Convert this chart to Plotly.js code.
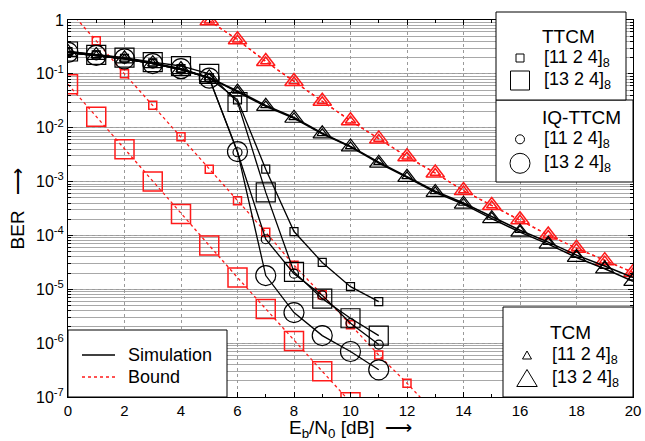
<!DOCTYPE html>
<html>
<head>
<meta charset="utf-8">
<script src="https://cdn.plot.ly/plotly-3.0.1.min.js"></script>
<style>html,body{margin:0;padding:0;background:#fff;}#chart{width:645px;height:441px;}</style>
</head>
<body>
<div id="chart"></div>
<script>
// ---------- data ----------
const xSim20 = [0,1,2,3,4,5,6,7,8,9,10,11,12,13,14,15,16,17,18,19,20];
const xSim11 = [0,1,2,3,4,5,6,7,8,9,10,11];
const xBoundSq11 = [0,1,2,3,4,5,6,7,8,9,10,11,12,13];
const xBoundSq13 = [0,1,2,3,4,5,6,7,8,9,10];
const xBoundTri = [5,6,7,8,9,10,11,12,13,14,15,16,17,18,19,20];

const tcm11Sim = [0.25,0.22,0.19,0.155,0.12,0.085,0.048,0.026,0.0155,0.0079,0.0045,0.0023,0.00125,6.6e-4,4.0e-4,2.2e-4,1.25e-4,7.5e-5,4.3e-5,2.7e-5,1.65e-5];
const tcm13Sim = [0.25,0.22,0.19,0.155,0.12,0.085,0.046,0.025,0.015,0.0077,0.0044,0.0022,0.0012,6.3e-4,3.8e-4,2.05e-4,1.15e-4,6.9e-5,3.9e-5,2.4e-5,1.4e-5];
const ttcm11Sim = [0.26,0.225,0.195,0.16,0.125,0.085,0.033,0.0017,1.18e-4,3.15e-5,1.12e-5,5.9e-6];
const ttcm13Sim = [0.26,0.225,0.2,0.165,0.14,0.1,0.03,6.3e-4,2.1e-5,6.7e-6,2.9e-6,1.38e-6];
const iq11Sim = [0.25,0.22,0.19,0.155,0.12,0.083,3.5e-3,8.5e-5,1.95e-5,7.7e-6,2.35e-6,9.4e-7];
const iq13Sim = [0.25,0.22,0.19,0.155,0.125,0.083,3.6e-3,1.8e-5,3.7e-6,1.38e-6,7.0e-7,3.2e-7];

const ttcm11Bound = [1.6,0.41,0.1,0.026,0.0068,0.0017,4.4e-4,1.15e-4,2.8e-5,7.9e-6,2.2e-6,6.0e-7,1.8e-7,5e-8];
const ttcm13Bound = [0.064,0.016,0.004,1.0e-3,2.5e-4,6.5e-5,1.65e-5,4.3e-6,1.1e-6,3.0e-7,8e-8];
const tcm11Bound = [0.97,0.43,0.17,0.072,0.031,0.0135,0.0062,0.0029,0.00144,6.8e-4,3.6e-4,1.95e-4,1.02e-4,5.8e-5,3.4e-5,2.05e-5];
const tcm13Bound = [0.97,0.43,0.17,0.072,0.031,0.0135,0.0062,0.0029,0.00144,6.8e-4,3.6e-4,1.95e-4,1.02e-4,5.8e-5,3.4e-5,2.05e-5];

const xTicks = [0,2,4,6,8,10,12,14,16,18,20];
const yTickVals = [1,0.1,0.01,0.001,1e-4,1e-5,1e-6,1e-7];
const yTickText = ['1','10<sup>-1</sup>','10<sup>-2</sup>','10<sup>-3</sup>','10<sup>-4</sup>','10<sup>-5</sup>','10<sup>-6</sup>','10<sup>-7</sup>'];

const legendSimLabel = 'Simulation';
const legendBoundLabel = 'Bound';
const groupTTCM = 'TTCM';
const groupIQ = 'IQ-TTCM';
const groupTCM = 'TCM';
const code11 = '[11 2 4]<sub>8</sub>';
const code13 = '[13 2 4]<sub>8</sub>';
const xTitle = 'E<sub>b</sub>/N<sub>0</sub> [dB]  ⟶';
const yTitle = 'BER   ⟶';

// ---------- styling ----------
const RED = '#ff1a1a';
const FONT = 'Liberation Sans, Arial, Helvetica, sans-serif';

function sim(name, x, y, symbol, size, lw) {
  return {type:'scatter', mode:'lines+markers', name:name, x:x, y:y, showlegend:false,
    line:{color:'#000', width:lw||1.3},
    marker:{symbol:symbol, size:size, color:'#000', line:{color:'#000', width:1.2}}};
}
function bound(name, x, y, symbol, size) {
  return {type:'scatter', mode:'lines+markers', name:name, x:x, y:y, showlegend:false,
    line:{color:RED, width:1.3, dash:'dot'},
    marker:{symbol:symbol, size:size, color:RED, line:{color:RED, width:1.5}}};
}

const traces = [
  bound('TTCM [11 2 4] bound', xBoundSq11, ttcm11Bound, 'square-open', 8),
  bound('TTCM [13 2 4] bound', xBoundSq13, ttcm13Bound, 'square-open', 19),
  bound('TCM [11 2 4] bound', xBoundTri, tcm11Bound, 'triangle-up-open', 9),
  bound('TCM [13 2 4] bound', xBoundTri, tcm13Bound, 'triangle-up-open', 16),
  sim('TCM [11 2 4]', xSim20, tcm11Sim, 'triangle-up-open', 9, 1.5),
  sim('TCM [13 2 4]', xSim20, tcm13Sim, 'triangle-up-open', 16, 1.5),
  sim('TTCM [11 2 4]', xSim11, ttcm11Sim, 'square-open', 8),
  sim('TTCM [13 2 4]', xSim11, ttcm13Sim, 'square-open', 19),
  sim('IQ-TTCM [11 2 4]', xSim11, iq11Sim, 'circle-open', 9),
  sim('IQ-TTCM [13 2 4]', xSim11, iq13Sim, 'circle-open', 20)
];

// ---------- legend boxes (pixel helpers) ----------
const PL = 68, PR = 633, PT = 20, PB = 397;
function px(v){ return (v-PL)/(PR-PL); }
function py(v){ return (PB-v)/(PB-PT); }
function rect(x0,y0,x1,y1,extra){
  return Object.assign({type:'rect', xref:'paper', yref:'paper', layer:'above',
    x0:px(x0), x1:px(x1), y0:py(y1), y1:py(y0),
    line:{color:'#000', width:1}, fillcolor:'rgba(0,0,0,0)'}, extra||{});
}
function circ(cx,cy,d){
  return {type:'circle', xref:'paper', yref:'paper', layer:'above',
    x0:px(cx-d/2), x1:px(cx+d/2), y0:py(cy+d/2), y1:py(cy-d/2),
    line:{color:'#000', width:1}};
}
function tri(cx,cy,w,h){
  const p = 'M'+px(cx-w/2)+','+py(cy+h/2)+' L'+px(cx+w/2)+','+py(cy+h/2)+' L'+px(cx)+','+py(cy-h/2)+' Z';
  return {type:'path', xref:'paper', yref:'paper', layer:'above', path:p, line:{color:'#000', width:1}};
}
function seg(x0,x1,y,color,dash){
  return {type:'line', xref:'paper', yref:'paper', layer:'above',
    x0:px(x0), x1:px(x1), y0:py(y), y1:py(y), line:{color:color, width:1.3, dash:dash}};
}
function txt(text,x,y,anchor,size,vanchor){
  return {text:text, xref:'paper', yref:'paper', x:px(x), y:py(y), xanchor:anchor||'left', yanchor:vanchor||'middle',
    showarrow:false, font:{family:FONT, size:size||18, color:'#000'}};
}

const shapes = [
  rect(496,100,633,182,{fillcolor:'#fff'}),
  rect(496,12,626,100,{fillcolor:'#fff'}),
  rect(503,307,633,397,{fillcolor:'#fff'}),
  rect(68,330,227,397,{fillcolor:'#fff'}),
  rect(516,54,524,62),
  rect(510.5,71,529.5,90),
  circ(520,139.3,9),
  circ(520,163.3,20),
  tri(527,355,9,8),
  tri(527,378,20.5,17),
  seg(82,115,355,'#000','solid'),
  seg(82,115,377,RED,'dot')
];

const annotations = [
  txt(groupTTCM,568,36,'center',19),
  txt(code11,542,58),
  txt(code13,542,80),
  txt(groupIQ,581,117,'center',19),
  txt(code11,542,139),
  txt(code13,542,163),
  txt(groupTCM,570,332,'center',19),
  txt(code11,550,355),
  txt(code13,550,378),
  txt(legendSimLabel,126,355),
  txt(legendBoundLabel,126,377),
  txt(xTitle,350.5,443,'center',19,'bottom')
];

const layout = {
  width:645, height:441,
  margin:{l:68, r:12, t:20, b:44},
  paper_bgcolor:'#fff', plot_bgcolor:'#fff',
  font:{family:FONT, size:16, color:'#000'},
  showlegend:false,
  xaxis:{
    range:[0,20], tickmode:'array', tickvals:xTicks,
    showgrid:true, gridcolor:'#9a9a9a', griddash:'dot', gridwidth:1,
    zeroline:false, showline:true, linecolor:'#000', linewidth:1, mirror:'allticks',
    ticks:'inside', ticklen:5, tickcolor:'#000',
    minor:{tickmode:'linear', tick0:0, dtick:1, ticks:'inside', ticklen:3, tickcolor:'#000', showgrid:false},
    tickfont:{family:FONT, size:15}
  },
  yaxis:{
    type:'log', range:[-7,0], tickmode:'array', tickvals:yTickVals, ticktext:yTickText,
    showgrid:true, gridcolor:'#9a9a9a', griddash:'dot', gridwidth:1,
    zeroline:false, showline:true, linecolor:'#000', linewidth:1, mirror:'allticks',
    ticks:'inside', ticklen:5, tickcolor:'#000',
    minor:{tickmode:'linear', dtick:'D1', ticks:'inside', ticklen:3, tickcolor:'#000', showgrid:true, gridcolor:'#a8a8a8', gridwidth:1, griddash:'solid'},
    tickfont:{family:FONT, size:16},
    title:{text:yTitle, font:{family:FONT, size:19}, standoff:6}
  },
  shapes:shapes,
  annotations:annotations
};

Plotly.newPlot('chart', traces, layout, {displayModeBar:false, staticPlot:true});
</script>
</body>
</html>
